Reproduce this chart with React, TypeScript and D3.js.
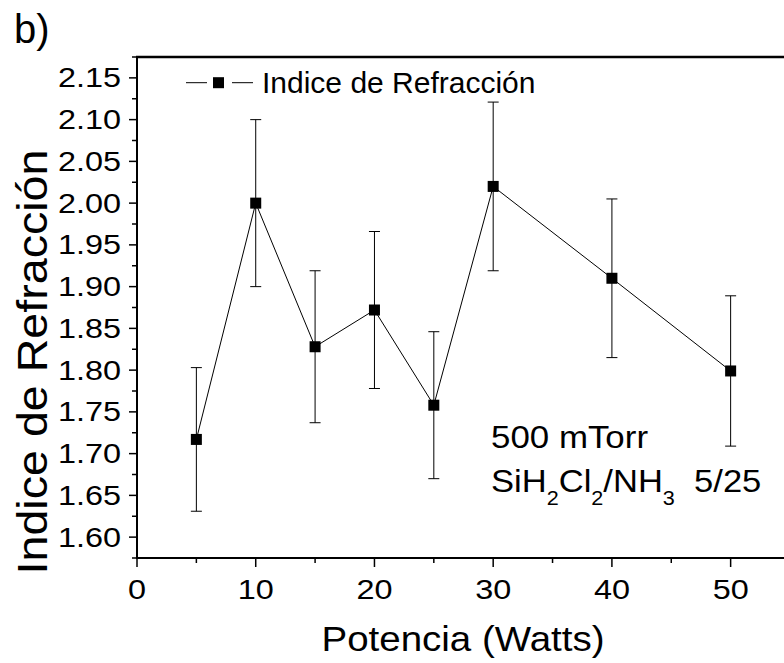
import React from "react";
import * as d3 from "d3";

const potencia = [5, 10, 15, 20, 25, 30, 40, 50];
const indice = [1.717, 2.0, 1.828, 1.872, 1.758, 2.02, 1.91, 1.799];
const errores = [0.086, 0.1, 0.091, 0.094, 0.088, 0.101, 0.095, 0.09];
const xTicks = [0, 10, 20, 30, 40, 50];
const xMinor = [5, 15, 25, 35, 45];
const yTicks = [1.6, 1.65, 1.7, 1.75, 1.8, 1.85, 1.9, 1.95, 2.0, 2.05, 2.1, 2.15];
const yMinor = [1.575, 1.625, 1.675, 1.725, 1.775, 1.825, 1.875, 1.925, 1.975, 2.025, 2.075, 2.125, 2.175];

const W = 784;
const H = 663;
const FONT = "'Liberation Sans', Arial, Helvetica, sans-serif";

export default function App() {
  const x = d3.scaleLinear().domain([0, 55]).range([137, 790]);
  const y = d3.scaleLinear().domain([1.575, 2.175]).range([558, 57]);
  const line = d3
    .line<number>()
    .x((_, i) => x(potencia[i]))
    .y((d) => y(d));

  const tickFs = 27;
  const tickSx = 1.2;

  return (
    <svg
      width={W}
      height={H}
      style={{ position: "absolute", left: 0, top: 0, background: "#fff" }}
      fontFamily={FONT}
    >
      <rect x={0} y={0} width={W} height={H} fill="#fff" />
      {/* title */}
      <text x={14} y={43} fontSize={40} fill="#000">b)</text>

      {/* axes */}
      <line x1={137} x2={137} y1={56} y2={559} stroke="#000" strokeWidth={2} />
      <line x1={136} x2={W} y1={558} y2={558} stroke="#000" strokeWidth={2} />
      <line x1={136} x2={W} y1={57} y2={57} stroke="#000" strokeWidth={2.3} />

      {/* y ticks */}
      {yTicks.map((t) => (
        <g key={"yt" + t}>
          <line x1={129} x2={137} y1={y(t)} y2={y(t)} stroke="#000" strokeWidth={1.5} />
          <text
            transform={`translate(121,${y(t) + 9.5}) scale(${tickSx},1)`}
            textAnchor="end"
            fontSize={tickFs}
            fill="#000"
          >
            {d3.format(".2f")(t)}
          </text>
        </g>
      ))}
      {yMinor.map((t) => (
        <line key={"ym" + t} x1={132} x2={137} y1={y(t)} y2={y(t)} stroke="#000" strokeWidth={1.5} />
      ))}

      {/* x ticks */}
      {xTicks.map((t) => (
        <g key={"xt" + t}>
          <line x1={x(t)} x2={x(t)} y1={558} y2={567} stroke="#000" strokeWidth={1.5} />
          <text
            transform={`translate(${x(t)},599) scale(${tickSx},1)`}
            textAnchor="middle"
            fontSize={tickFs}
            fill="#000"
          >
            {t}
          </text>
        </g>
      ))}
      {xMinor.map((t) => (
        <line key={"xm" + t} x1={x(t)} x2={x(t)} y1={558} y2={563} stroke="#000" strokeWidth={1.5} />
      ))}

      {/* axis labels */}
      <text
        transform={`translate(463,651) scale(1.1,1)`}
        textAnchor="middle"
        fontSize={35}
        fill="#000"
      >
        Potencia (Watts)
      </text>
      <text
        transform={`translate(47,362) rotate(-90) scale(1.11,1)`}
        textAnchor="middle"
        fontSize={42}
        fill="#000"
      >
        Indice de Refracción
      </text>

      {/* data line */}
      <path d={line(indice) || ""} fill="none" stroke="#000" strokeWidth={1} />

      {/* error bars */}
      {potencia.map((p, i) => (
        <g key={"e" + p} stroke="#000" strokeWidth={1}>
          <line x1={x(p)} x2={x(p)} y1={y(indice[i] - errores[i])} y2={y(indice[i] + errores[i])} />
          <line x1={x(p) - 5.5} x2={x(p) + 5.5} y1={y(indice[i] - errores[i])} y2={y(indice[i] - errores[i])} />
          <line x1={x(p) - 5.5} x2={x(p) + 5.5} y1={y(indice[i] + errores[i])} y2={y(indice[i] + errores[i])} />
        </g>
      ))}

      {/* markers */}
      {potencia.map((p, i) => (
        <rect key={"m" + p} x={x(p) - 5.5} y={y(indice[i]) - 5.5} width={11} height={11} fill="#000" />
      ))}

      {/* legend */}
      <line x1={186} x2={207} y1={82.7} y2={82.7} stroke="#000" strokeWidth={1} />
      <rect x={213} y={77.2} width={11} height={11} fill="#000" />
      <line x1={232} x2={253} y1={82.7} y2={82.7} stroke="#000" strokeWidth={1} />
      <text x={262} y={93} fontSize={30} fill="#000">Indice de Refracción</text>

      {/* annotation */}
      <text transform="translate(491,448) scale(1.09,1)" fontSize={32} fill="#000">
        500 mTorr
      </text>
      <text transform="translate(491,492) scale(1.08,1)" fontSize={32} fill="#000" style={{ whiteSpace: "pre" }}>
        <tspan>SiH</tspan>
        <tspan fontSize={20} dy={13}>2</tspan>
        <tspan dy={-13}>Cl</tspan>
        <tspan fontSize={20} dy={13}>2</tspan>
        <tspan dy={-13}>/NH</tspan>
        <tspan fontSize={20} dy={13}>3</tspan>
        <tspan dy={-13}>{"  5/25"}</tspan>
      </text>
    </svg>
  );
}
